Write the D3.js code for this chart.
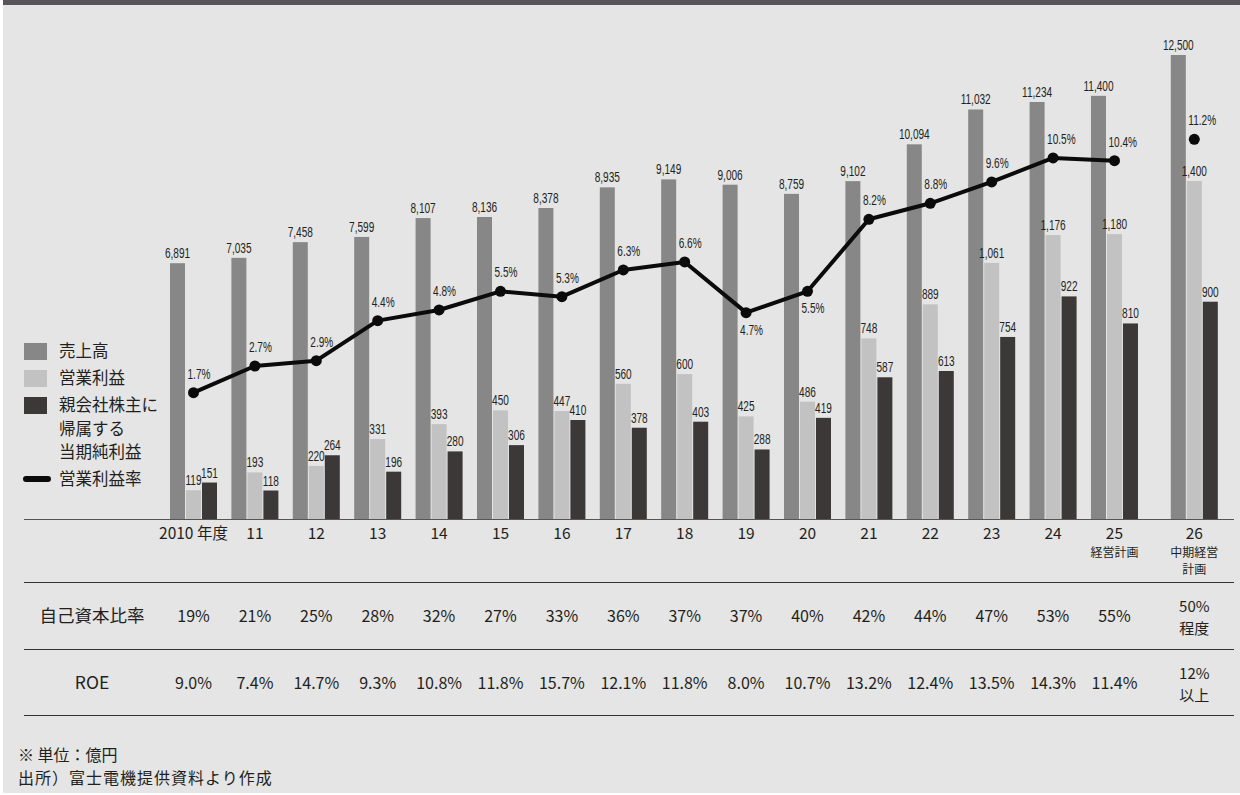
<!DOCTYPE html>
<html>
<head>
<meta charset="utf-8">
<script src="https://cdn.jsdelivr.net/npm/d3@7"></script>
<style>
  html, body { margin: 0; padding: 0; background: #ffffff; }
  svg { display: block; }
</style>
</head>
<body>
<svg id="chart" width="1240" height="795"></svg>
<script>
// データ（単位：億円）
const years = ['2010', '11', '12', '13', '14', '15', '16', '17', '18', '19', '20', '21', '22', '23', '24', '25', '26'];
const yearNotes = { '25': ['経営計画'], '26': ['中期経営', '計画'] };
const sales = [6891, 7035, 7458, 7599, 8107, 8136, 8378, 8935, 9149, 9006, 8759, 9102, 10094, 11032, 11234, 11400, 12500];
const opProfit = [119, 193, 220, 331, 393, 450, 447, 560, 600, 425, 486, 748, 889, 1061, 1176, 1180, 1400];
const netProfit = [151, 118, 264, 196, 280, 306, 410, 378, 403, 288, 419, 587, 613, 754, 922, 810, 900];
const opMargin = [1.7, 2.7, 2.9, 4.4, 4.8, 5.5, 5.3, 6.3, 6.6, 4.7, 5.5, 8.2, 8.8, 9.6, 10.5, 10.4, 11.2];
const equityRatio = ['19%', '21%', '25%', '28%', '32%', '27%', '33%', '36%', '37%', '37%', '40%', '42%', '44%', '47%', '53%', '55%', ['50%', '程度']];
const roe = ['9.0%', '7.4%', '14.7%', '9.3%', '10.8%', '11.8%', '15.7%', '12.1%', '11.8%', '8.0%', '10.7%', '13.2%', '12.4%', '13.5%', '14.3%', '11.4%', ['12%', '以上']];
const legendItems = [
    { lines: ['売上高'], type: 'sales' },
    { lines: ['営業利益'], type: 'op' },
    { lines: ['親会社株主に', '帰属する', '当期純利益'], type: 'net' },
    { lines: ['営業利益率'], type: 'line' }
];

const colors = { sales: '#878787', op: '#c1c2c1', net: '#3c3838', line: '#0b0b0b', text: '#231f20' };
const jpFont = '"Noto Sans CJK JP", "Noto Sans", sans-serif';
const numFont = '"Liberation Sans", Arial, sans-serif';

const svg = d3.select('#chart');

// 背景
svg.append('rect').attr('x', 3).attr('y', 0).attr('width', 1237).attr('height', 793).attr('fill', '#e5e5e5');
svg.append('rect').attr('x', 3).attr('y', 0).attr('width', 1237).attr('height', 5).attr('fill', '#575557');

// スケール
const baseline = 519;
const slot = i => i + (i === years.length - 1 ? 0.3 : 0);
const x = d3.scaleLinear().domain([0, 16.3]).range([193.5, 1194.3]);
const ySales = d3.scaleLinear().domain([0, 12500]).range([baseline, 55]);
const yProfit = d3.scaleLinear().domain([0, 1400]).range([baseline, 181]);
const yMargin = d3.scaleLinear().domain([0, 11.2]).range([438, 139.3]);

const barW = 15, barStep = 16;
const series = [
    { key: 'sales', values: sales, y: ySales, off: -barStep },
    { key: 'op', values: opProfit, y: yProfit, off: 0 },
    { key: 'net', values: netProfit, y: yProfit, off: barStep }
];

// 細長い数字ラベル（コンデンス書体の代わりに横方向を縮める）
function narrowText(sel) {
    return sel
        .style('font-family', numFont)
        .style('font-size', '14px')
        .attr('fill', colors.text);
}

// 棒グラフ
series.forEach(s => {
    const g = svg.append('g').attr('class', 'bars-' + s.key);
    g.selectAll('rect')
        .data(s.values)
        .enter().append('rect')
        .attr('x', (d, i) => x(slot(i)) + s.off - barW / 2)
        .attr('y', d => s.y(d))
        .attr('width', barW)
        .attr('height', d => baseline - s.y(d))
        .attr('fill', colors[s.key]);

    g.selectAll('text')
        .data(s.values)
        .enter().append('text')
        .attr('transform', (d, i) => `translate(${x(slot(i)) + s.off},${s.y(d) - 5}) scale(0.72,1)`)
        .attr('text-anchor', 'middle')
        .call(narrowText)
        .text(d => d3.format(',')(d));
});

// 営業利益率の折れ線（2025年度まで）
const lineData = opMargin.slice(0, 16);
svg.append('path')
    .datum(lineData)
    .attr('fill', 'none')
    .attr('stroke', colors.line)
    .attr('stroke-width', 4)
    .attr('stroke-linejoin', 'round')
    .attr('d', d3.line().x((d, i) => x(slot(i))).y(d => yMargin(d)));

svg.append('g').selectAll('circle')
    .data(opMargin)
    .enter().append('circle')
    .attr('cx', (d, i) => x(slot(i)))
    .attr('cy', d => yMargin(d))
    .attr('r', 5.5)
    .attr('fill', colors.line);

// 谷になっている点はラベルを下に
const labelBelow = (d, i) => years[i] === '19' || years[i] === '20';
svg.append('g').selectAll('text')
    .data(opMargin)
    .enter().append('text')
    .attr('transform', (d, i) => `translate(${x(slot(i)) - 6},${yMargin(d) + (labelBelow(d, i) ? 22 : -14)}) scale(0.72,1)`)
    .call(narrowText)
    .text(d => d.toFixed(1) + '%');

// 軸線
svg.append('line').attr('x1', 24).attr('x2', 1234).attr('y1', baseline + 0.5).attr('y2', baseline + 0.5)
    .attr('stroke', '#555').attr('stroke-width', 1.2);

// 年度ラベル
const yearG = svg.append('g').selectAll('g')
    .data(years)
    .enter().append('g')
    .attr('transform', (d, i) => `translate(${x(slot(i))},0)`);

yearG.append('text')
    .attr('y', 539)
    .attr('text-anchor', 'middle')
    .style('font-family', jpFont)
    .style('font-size', '15.5px')
    .attr('fill', colors.text)
    .text(d => d === '2010' ? '2010 年度' : d);

yearG.each(function(d) {
    const notes = yearNotes[d];
    if (!notes) return;
    d3.select(this).selectAll('text.note')
        .data(notes)
        .enter().append('text')
        .attr('class', 'note')
        .attr('y', (n, j) => 557 + j * 17)
        .attr('text-anchor', 'middle')
        .style('font-family', jpFont)
        .style('font-size', '12px')
        .attr('fill', colors.text)
        .text(n => n);
});

// 表
[582, 649, 715].forEach(yy => {
    svg.append('line').attr('x1', 24).attr('x2', 1234).attr('y1', yy + 0.5).attr('y2', yy + 0.5)
        .attr('stroke', '#333').attr('stroke-width', 1.2);
});

const tableRows = [
    { label: '自己資本比率', values: equityRatio, y: 622 },
    { label: 'ROE', values: roe, y: 689 }
];

tableRows.forEach(row => {
    svg.append('text')
        .attr('x', 92).attr('y', row.y)
        .attr('text-anchor', 'middle')
        .style('font-family', jpFont)
        .style('font-size', '17.5px')
        .attr('fill', colors.text)
        .text(row.label);

    row.values.forEach((v, i) => {
        const lines = Array.isArray(v) ? v : [v];
        lines.forEach((ln, j) => {
            svg.append('text')
                .attr('x', x(slot(i)))
                .attr('y', lines.length > 1 ? row.y - 10 + j * 22 : row.y)
                .attr('text-anchor', 'middle')
                .style('font-family', jpFont)
                .style('font-size', lines.length > 1 ? '15px' : '16px')
                .attr('fill', colors.text)
                .text(ln);
        });
    });
});

// 凡例
const legend = svg.append('g').attr('class', 'legend');
let ly = 343;
legendItems.forEach(item => {
    if (item.type === 'line') {
        legend.append('line')
            .attr('x1', 26).attr('x2', 48)
            .attr('y1', ly + 8).attr('y2', ly + 8)
            .attr('stroke', colors.line).attr('stroke-width', 6)
            .attr('stroke-linecap', 'round');
    } else {
        legend.append('rect')
            .attr('x', 24).attr('y', ly)
            .attr('width', 23).attr('height', 17)
            .attr('fill', colors[item.type]);
    }
    item.lines.forEach((ln, j) => {
        legend.append('text')
            .attr('x', 59).attr('y', ly + 14 + j * 23.5)
            .style('font-family', jpFont)
            .style('font-size', '16.5px')
            .attr('fill', colors.text)
            .text(ln);
    });
    ly += item.lines.length * 23.5 + 3.5;
});

// 注記
svg.append('text').attr('x', 18).attr('y', 761)
    .style('font-family', jpFont).style('font-size', '16px').attr('fill', colors.text)
    .text('※ 単位：億円');
svg.append('text').attr('x', 18).attr('y', 784)
    .style('font-family', jpFont).style('font-size', '16px').style('letter-spacing', '1px').attr('fill', colors.text)
    .text('出所）富士電機提供資料より作成');
</script>
</body>
</html>
